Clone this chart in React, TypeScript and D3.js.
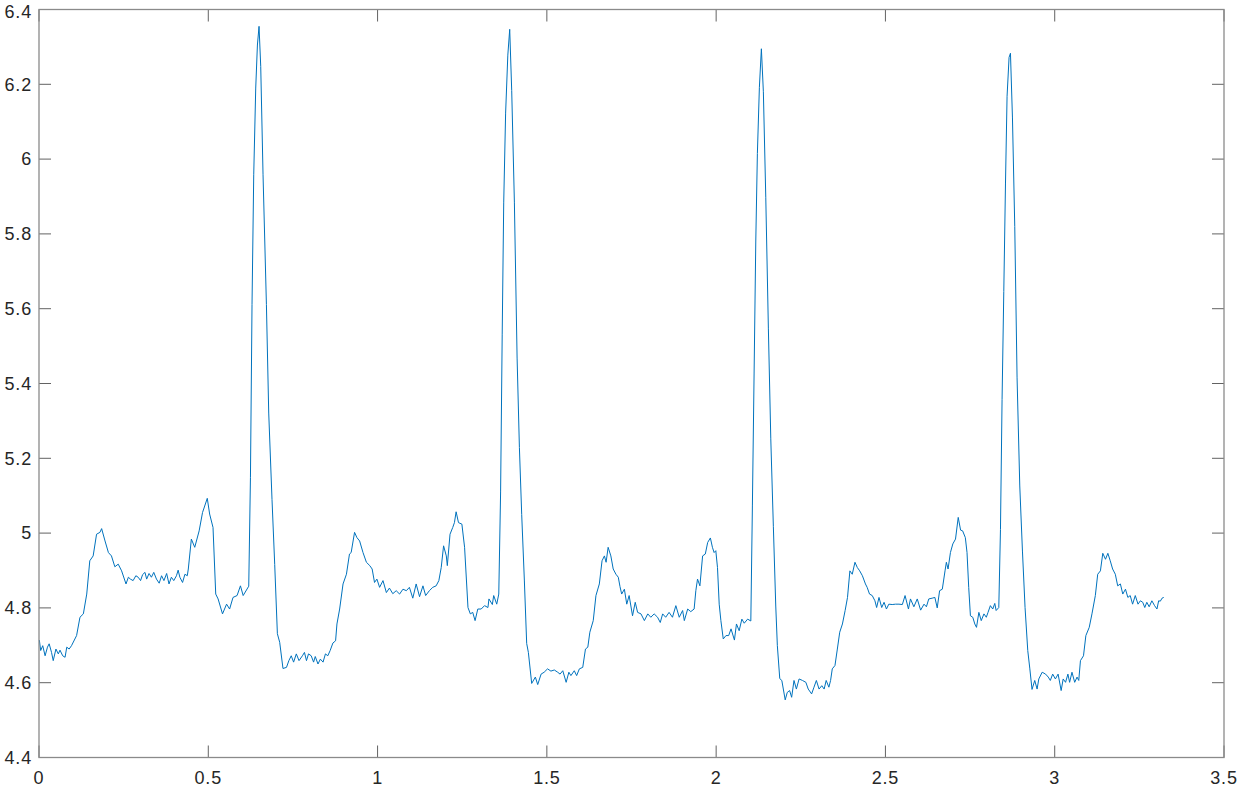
import React from "react";
import * as d3 from "d3";

// Time (s)
const timeSec: number[] = [
  0.001, 0.005, 0.011, 0.018, 0.025, 0.030, 0.037, 0.042, 0.050, 0.057, 0.062, 0.070, 0.077, 0.082, 0.089, 0.096,
  0.111, 0.121, 0.131, 0.141, 0.150, 0.160, 0.170, 0.180, 0.185, 0.195, 0.205, 0.214, 0.224, 0.234, 0.244, 0.257,
  0.264, 0.270, 0.278, 0.286, 0.293, 0.300, 0.306, 0.313, 0.318, 0.325, 0.332, 0.339, 0.347, 0.355, 0.362, 0.369,
  0.377, 0.384, 0.391, 0.398, 0.406, 0.411, 0.416, 0.424, 0.431, 0.438, 0.441, 0.450, 0.460, 0.473, 0.483, 0.497,
  0.504, 0.514, 0.522, 0.529, 0.542, 0.554, 0.563, 0.573, 0.585, 0.595, 0.603, 0.6195,
  0.6245, 0.6292, 0.6342, 0.6401, 0.6451, 0.6499, 0.6549, 0.6617, 0.6717, 0.6785, 0.6882, 0.6962, 0.7041, 0.7109, 0.7206,
  0.731, 0.738, 0.745, 0.752, 0.760, 0.768, 0.778, 0.784, 0.790, 0.796, 0.804, 0.811, 0.816, 0.824, 0.831, 0.839,
  0.846, 0.853, 0.860, 0.868, 0.876, 0.880, 0.888, 0.898, 0.908, 0.917, 0.922, 0.932, 0.939, 0.947, 0.957, 0.967,
  0.977, 0.984, 0.991, 0.998, 1.006, 1.016, 1.026, 1.035, 1.045, 1.055, 1.065, 1.075, 1.085, 1.094, 1.104, 1.114,
  1.124, 1.134, 1.142, 1.153, 1.163, 1.173, 1.181, 1.188, 1.195, 1.203, 1.206, 1.214, 1.222, 1.227, 1.232, 1.239,
  1.249, 1.257, 1.267, 1.274, 1.281, 1.288, 1.296, 1.306, 1.316, 1.326, 1.329, 1.339, 1.343, 1.352, 1.358,
  1.3634, 1.3681, 1.3726, 1.3782, 1.3847, 1.3903, 1.3962, 1.4041, 1.4121, 1.4189, 1.4257, 1.4336, 1.4404, 1.4454, 1.4552,
  1.466, 1.473, 1.483, 1.492, 1.502, 1.512, 1.522, 1.532, 1.539, 1.547, 1.557, 1.565, 1.571, 1.581, 1.588, 1.596,
  1.606, 1.614, 1.621, 1.627, 1.637, 1.645, 1.655, 1.663, 1.670, 1.675, 1.681, 1.689, 1.696, 1.704, 1.711, 1.716,
  1.721, 1.729, 1.736, 1.743, 1.753, 1.761, 1.768, 1.778, 1.788, 1.798, 1.807, 1.817, 1.827, 1.835, 1.842, 1.851,
  1.861, 1.871, 1.881, 1.891, 1.901, 1.906, 1.916, 1.925, 1.935, 1.940, 1.945, 1.952, 1.960, 1.968, 1.975, 1.983,
  1.989, 1.994, 1.999, 2.004, 2.009, 2.014, 2.021, 2.029, 2.037, 2.044, 2.054, 2.060, 2.068, 2.076, 2.083, 2.093,
  2.1024, 2.1071, 2.1121, 2.1171, 2.1218, 2.1277, 2.1336, 2.1395, 2.1466, 2.1543, 2.1614, 2.1690, 2.1761, 2.1808, 2.1879,
  2.194, 2.204, 2.210, 2.217, 2.223, 2.230, 2.237, 2.245, 2.255, 2.265, 2.272, 2.282, 2.289, 2.296, 2.304, 2.312,
  2.319, 2.325, 2.333, 2.338, 2.343, 2.351, 2.358, 2.365, 2.373, 2.381, 2.388, 2.395, 2.402, 2.410, 2.417, 2.424,
  2.432, 2.441, 2.446, 2.453, 2.461, 2.469, 2.474, 2.481, 2.489, 2.496, 2.503, 2.510, 2.520, 2.530, 2.540, 2.550,
  2.558, 2.568, 2.574, 2.584, 2.594, 2.604, 2.614, 2.621, 2.628, 2.638, 2.646, 2.653, 2.660, 2.668, 2.676, 2.680,
  2.685, 2.692, 2.699, 2.707, 2.715, 2.722, 2.728, 2.736, 2.741, 2.746, 2.751, 2.758, 2.764, 2.769, 2.776, 2.783,
  2.791, 2.798, 2.803, 2.810, 2.817, 2.823, 2.827,
  2.8348, 2.8398, 2.8445, 2.8496, 2.8546, 2.8593, 2.8652, 2.8693, 2.8752, 2.8820, 2.8888, 2.8968, 2.9047, 2.9124, 2.9204, 2.9263, 2.9330,
  2.941, 2.948, 2.953, 2.963, 2.973, 2.981, 2.987, 2.994, 3.002, 3.010, 3.019, 3.025, 3.032, 3.039, 3.044, 3.051,
  3.059, 3.066, 3.071, 3.076, 3.085, 3.092, 3.102, 3.110, 3.120, 3.127, 3.135, 3.142, 3.150, 3.157, 3.164, 3.171,
  3.179, 3.186, 3.194, 3.201, 3.209, 3.216, 3.223, 3.230, 3.238, 3.246, 3.253, 3.260, 3.266, 3.272, 3.279, 3.287,
  3.295, 3.302, 3.307, 3.312, 3.317, 3.322,
];

// Signal amplitude
const amplitude: number[] = [
  4.714, 4.686, 4.699, 4.672, 4.695, 4.704, 4.681, 4.659, 4.690, 4.677, 4.687, 4.672, 4.668, 4.695, 4.690, 4.699,
  4.726, 4.775, 4.784, 4.837, 4.926, 4.939, 4.997, 5.002, 5.012, 4.979, 4.948, 4.939, 4.910, 4.917, 4.899, 4.864,
  4.882, 4.877, 4.873, 4.886, 4.882, 4.873, 4.889, 4.895, 4.877, 4.892, 4.882, 4.895, 4.877, 4.866, 4.886, 4.873,
  4.892, 4.864, 4.882, 4.873, 4.886, 4.901, 4.882, 4.868, 4.890, 4.886, 4.904, 4.984, 4.962, 5.006, 5.055, 5.093,
  5.051, 5.015, 4.837, 4.824, 4.784, 4.810, 4.797, 4.828, 4.833, 4.859, 4.833, 4.858,
  5.148, 5.611, 5.958, 6.190, 6.305, 6.355, 6.248, 5.958, 5.611, 5.321, 5.090, 4.916, 4.731, 4.708, 4.638,
  4.641, 4.659, 4.672, 4.655, 4.677, 4.659, 4.672, 4.681, 4.659, 4.677, 4.672, 4.655, 4.670, 4.650, 4.663, 4.655,
  4.677, 4.672, 4.686, 4.706, 4.712, 4.757, 4.797, 4.864, 4.890, 4.944, 4.948, 5.002, 4.988, 4.979, 4.948, 4.922,
  4.913, 4.904, 4.868, 4.877, 4.855, 4.873, 4.841, 4.853, 4.838, 4.846, 4.837, 4.850, 4.846, 4.855, 4.826, 4.864,
  4.830, 4.859, 4.833, 4.846, 4.855, 4.859, 4.873, 4.908, 4.966, 4.939, 4.913, 4.997, 5.015, 5.028, 5.057, 5.028,
  5.024, 4.962, 4.801, 4.784, 4.788, 4.766, 4.797, 4.797, 4.806, 4.801, 4.824, 4.809, 4.833, 4.810, 4.837,
  5.110, 5.530, 5.885, 6.123, 6.278, 6.347, 6.183, 5.885, 5.468, 5.229, 5.050, 4.872, 4.705, 4.681, 4.598,
  4.615, 4.595, 4.623, 4.628, 4.637, 4.631, 4.634, 4.628, 4.623, 4.632, 4.601, 4.628, 4.619, 4.632, 4.619, 4.637,
  4.641, 4.690, 4.695, 4.735, 4.766, 4.833, 4.864, 4.926, 4.939, 4.922, 4.962, 4.939, 4.904, 4.890, 4.882, 4.857,
  4.837, 4.850, 4.810, 4.833, 4.779, 4.815, 4.788, 4.784, 4.766, 4.784, 4.775, 4.784, 4.775, 4.761, 4.784, 4.775,
  4.788, 4.775, 4.806, 4.775, 4.793, 4.766, 4.797, 4.790, 4.797, 4.846, 4.877, 4.859, 4.939, 4.944, 4.975, 4.987,
  4.962, 4.948, 4.953, 4.908, 4.810, 4.766, 4.717, 4.726, 4.726, 4.744, 4.714, 4.757, 4.739, 4.770, 4.759, 4.770,
  4.765, 5.075, 5.428, 5.781, 6.015, 6.192, 6.295, 6.180, 5.898, 5.546, 5.252, 5.017, 4.805, 4.699, 4.611,
  4.606, 4.554, 4.574, 4.579, 4.561, 4.606, 4.583, 4.610, 4.606, 4.601, 4.583, 4.570, 4.588, 4.606, 4.583, 4.592,
  4.583, 4.606, 4.588, 4.606, 4.637, 4.646, 4.690, 4.735, 4.757, 4.793, 4.828, 4.899, 4.890, 4.922, 4.908, 4.899,
  4.886, 4.864, 4.855, 4.837, 4.833, 4.819, 4.801, 4.828, 4.801, 4.815, 4.797, 4.810, 4.809, 4.810, 4.810, 4.809,
  4.833, 4.797, 4.824, 4.803, 4.824, 4.794, 4.810, 4.803, 4.824, 4.826, 4.828, 4.800, 4.846, 4.850, 4.899, 4.922,
  4.904, 4.948, 4.971, 4.984, 5.042, 5.008, 5.006, 4.988, 4.948, 4.855, 4.779, 4.775, 4.757, 4.748, 4.788, 4.766,
  4.784, 4.775, 4.788, 4.806, 4.797, 4.812, 4.793,
  4.801, 5.010, 5.357, 5.646, 5.936, 6.168, 6.272, 6.283, 6.110, 5.820, 5.415, 5.126, 4.952, 4.801, 4.686, 4.639, 4.582,
  4.606, 4.583, 4.610, 4.628, 4.623, 4.615, 4.606, 4.623, 4.610, 4.623, 4.579, 4.610, 4.601, 4.623, 4.601, 4.628,
  4.601, 4.615, 4.606, 4.659, 4.672, 4.726, 4.748, 4.784, 4.833, 4.890, 4.899, 4.946, 4.930, 4.946, 4.926, 4.904,
  4.890, 4.859, 4.864, 4.837, 4.850, 4.828, 4.833, 4.810, 4.833, 4.810, 4.819, 4.815, 4.801, 4.815, 4.803, 4.819,
  4.806, 4.797, 4.819, 4.818, 4.826, 4.828,
];

const xTicks: number[] = [0, 0.5, 1, 1.5, 2, 2.5, 3, 3.5];
const xTickLabels: string[] = ["0", "0.5", "1", "1.5", "2", "2.5", "3", "3.5"];
const yTicks: number[] = [4.4, 4.6, 4.8, 5, 5.2, 5.4, 5.6, 5.8, 6, 6.2, 6.4];
const yTickLabels: string[] = ["4.4", "4.6", "4.8", "5", "5.2", "5.4", "5.6", "5.8", "6", "6.2", "6.4"];

const W = 1239;
const H = 789;
const left = 39;
const right = 1224;
const top = 9.5;
const bottom = 757.5;
const tickLen = 12;

export default function App() {
  const x = d3.scaleLinear().domain([0, 3.5]).range([left, right]);
  const y = d3.scaleLinear().domain([4.4, 6.4]).range([bottom, top]);
  const points: [number, number][] = timeSec.map((t, i) => [t, amplitude[i]]);
  const line = d3
    .line<[number, number]>()
    .x((d) => x(d[0]))
    .y((d) => y(d[1]));

  const font = "Helvetica, Arial, 'Liberation Sans', sans-serif";
  const axisColor = "#8a8a8a";
  const tickColor = "#3a3a3a";
  const fs = 18;

  return (
    <svg
      width={W}
      height={H}
      style={{ position: "absolute", left: 0, top: 0, display: "block", background: "#fff" }}
    >
      <rect x={0} y={0} width={W} height={H} fill="#fff" />
      {xTicks.map((t, i) => (
        <g key={"xt" + i}>
          <line x1={x(t)} x2={x(t)} y1={bottom} y2={bottom - tickLen} stroke={tickColor} strokeWidth={0.8} />
          <line x1={x(t)} x2={x(t)} y1={top} y2={top + tickLen} stroke={tickColor} strokeWidth={0.8} />
          <text
            x={x(t)}
            y={783.5}
            textAnchor="middle"
            fontFamily={font}
            fontSize={fs}
            letterSpacing={0.8}
            fill="#262626"
          >
            {xTickLabels[i]}
          </text>
        </g>
      ))}
      {yTicks.map((v, i) => (
        <g key={"yt" + i}>
          <line x1={left} x2={left + tickLen} y1={y(v)} y2={y(v)} stroke={tickColor} strokeWidth={0.8} />
          <line x1={right} x2={right - tickLen} y1={y(v)} y2={y(v)} stroke={tickColor} strokeWidth={0.8} />
          <text
            x={left - 7}
            y={y(v) + (i === yTicks.length - 1 ? 2 : 0)}
            dy="0.35em"
            textAnchor="end"
            fontFamily={font}
            fontSize={fs}
            letterSpacing={0.8}
            fill="#262626"
          >
            {yTickLabels[i]}
          </text>
        </g>
      ))}
      <path d={line(points) || ""} fill="none" stroke="#0072BD" strokeWidth={1} strokeLinejoin="round" />
      <rect
        x={left}
        y={top}
        width={right - left}
        height={bottom - top}
        fill="none"
        stroke={axisColor}
        strokeWidth={1.3}
      />
    </svg>
  );
}
